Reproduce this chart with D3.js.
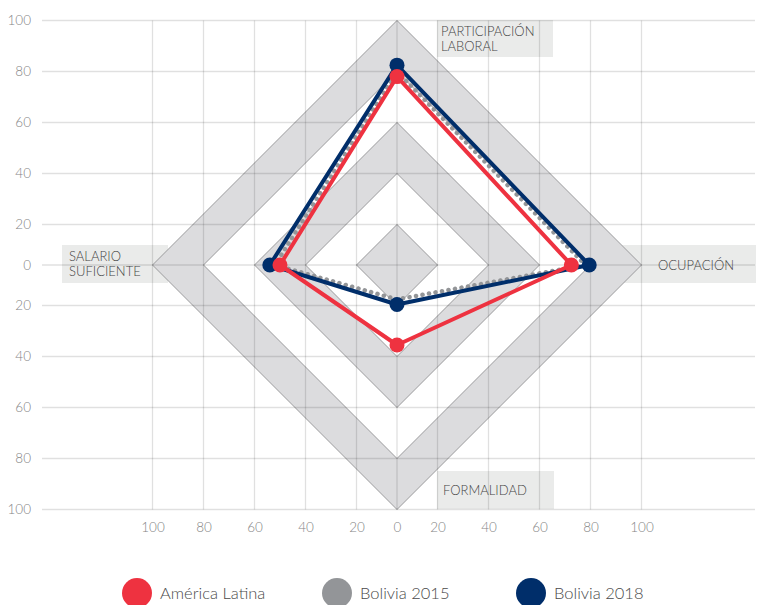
<!DOCTYPE html>
<html><head><meta charset="utf-8">
<script src="https://cdn.jsdelivr.net/npm/d3@7"></script>
<style>
html,body{margin:0;padding:0;background:#fff;}
svg{display:block;font-family:Lato,"Open Sans",sans-serif;}
</style></head><body>
<svg id="c" width="768" height="605"></svg>
<script>
// axes order: top, right, bottom, left
const axes = ["PARTICIPACIÓN LABORAL","OCUPACIÓN","FORMALIDAD","SALARIO SUFICIENTE"];
const seriesNames = ["América Latina","Bolivia 2015","Bolivia 2018"];
const americaLatina = [78, 72.5, 35.5, 50];
const bolivia2015 = [80, 78, 17, 52];
const bolivia2018 = [82.5, 79.5, 19.5, 54];
const tickValues = [100,80,60,40,20,0,20,40,60,80,100];
const ringLevels = [100,80,60,40,20];

const colors = {"América Latina":"#ee3240","Bolivia 2015":"#939598","Bolivia 2018":"#002e6a"};
const cx = 397, cy = 265;
const svg = d3.select("#c");

// piecewise radial scale
const r = d3.scaleLinear().domain([0,20,100]).range([0,40.5,244.5]);
// signed scales for axes
const xs = d3.scaleLinear().domain([-100,-20,0,20,100]).range([cx-r(100),cx-r(20),cx,cx+r(20),cx+r(100)]);
const ys = d3.scaleLinear().domain([-100,-20,0,20,100]).range([cy+r(100),cy+r(20),cy,cy-r(20),cy-r(100)]);
const signedTicks = [-100,-80,-60,-40,-20,0,20,40,60,80,100];
const fmt = d => String(Math.abs(d));

// label boxes
const boxes = [
  {x:437,y:20,w:116,h:37,lines:["PARTICIPACIÓN","LABORAL"],tx:441,ty:36},
  {x:620,y:245,w:136,h:38,lines:["OCUPACIÓN"],tx:658,ty:270},
  {x:437,y:471,w:117,h:38,lines:["FORMALIDAD"],tx:443,ty:495},
  {x:62,y:245,w:106,h:38,lines:["SALARIO","SUFICIENTE"],tx:69,ty:261}
];
const bg = svg.append("g");
boxes.forEach(b=>{
  bg.append("rect").attr("x",b.x).attr("y",b.y).attr("width",b.w).attr("height",b.h).attr("fill","#eaebea");
  const t = bg.append("text").attr("x",b.tx).attr("y",b.ty).attr("font-size",13).attr("fill","#444").attr("font-weight",300);
  b.lines.forEach((l,i)=>t.append("tspan").attr("x",b.tx).attr("dy",i?15:0).text(l));
});

// diamonds
const diamond = v => {
  const k = r(v);
  return `M${cx},${cy-k}L${cx+k},${cy}L${cx},${cy+k}L${cx-k},${cy}Z`;
};
const dg = svg.append("g");
[[100,80],[60,40],[20,0]].forEach(([o,i])=>{
  dg.append("path").attr("d", diamond(o) + (i>0 ? diamond(i) : ""))
    .attr("fill","#dcdcde").attr("fill-rule","evenodd").attr("stroke","none");
});
ringLevels.forEach(v=>{
  dg.append("path").attr("d",diamond(v)).attr("fill","none").attr("stroke","#9a9a9c").attr("stroke-width",1);
});

// gridlines
const gg = svg.append("g");
signedTicks.forEach(t=>{
  gg.append("line").attr("x1",42).attr("x2",755).attr("y1",ys(t)).attr("y2",ys(t))
    .attr("stroke","rgba(0,0,0,0.12)").attr("stroke-width",1.3);
  gg.append("line").attr("x1",xs(t)).attr("x2",xs(t)).attr("y1",ys(100)).attr("y2",ys(-100))
    .attr("stroke","rgba(0,0,0,0.12)").attr("stroke-width",1.3);
});

// axes tick labels
const yAxis = d3.axisLeft(ys).tickValues(signedTicks).tickFormat(fmt).tickSize(0).tickPadding(0);
const ya = svg.append("g").attr("transform","translate(31,0)").call(yAxis);
const xAxis = d3.axisBottom(xs).tickValues(signedTicks).tickFormat(fmt).tickSize(0).tickPadding(0);
const xa = svg.append("g").attr("transform","translate(0,522)").call(xAxis);
[ya,xa].forEach(a=>{
  a.select(".domain").remove();
  a.selectAll("text").attr("font-size",13.5).attr("fill","#858585").attr("font-family","Lato,'Open Sans',sans-serif").attr("font-weight",300);
});

// series
const pt = (v,i) => {
  const k = r(v);
  return [[cx,cy-k],[cx+k,cy],[cx,cy+k],[cx-k,cy]][i];
};
const line = d3.line().curve(d3.curveLinearClosed);
const sg = svg.append("g");
const drawSeries = (name, vals, dotted) => {
  const pts = vals.map(pt);
  const p = sg.append("path").attr("d", line(pts)).attr("fill","none")
    .attr("stroke", colors[name]).attr("stroke-width", dotted?4.5:4).attr("stroke-linejoin","round");
  if (dotted) p.attr("stroke-dasharray","0.1 6.5").attr("stroke-linecap","round");
  else sg.selectAll(null).data(pts).join("circle").attr("cx",d=>d[0]).attr("cy",d=>d[1]).attr("r",7.5).attr("fill",colors[name]);
};
drawSeries("Bolivia 2015", bolivia2015, true);
drawSeries("Bolivia 2018", bolivia2018, false);
drawSeries("América Latina", americaLatina, false);

// legend
const legendX = [137,337,531];
const lg = svg.append("g");
seriesNames.forEach((n,i)=>{
  lg.append("circle").attr("cx",legendX[i]).attr("cy",593).attr("r",15).attr("fill",colors[n]);
  lg.append("text").attr("x",legendX[i]+23).attr("y",599).attr("font-size",16.5).attr("fill","#4a4a4a").attr("font-weight",300).text(n);
});
</script>
</body></html>
